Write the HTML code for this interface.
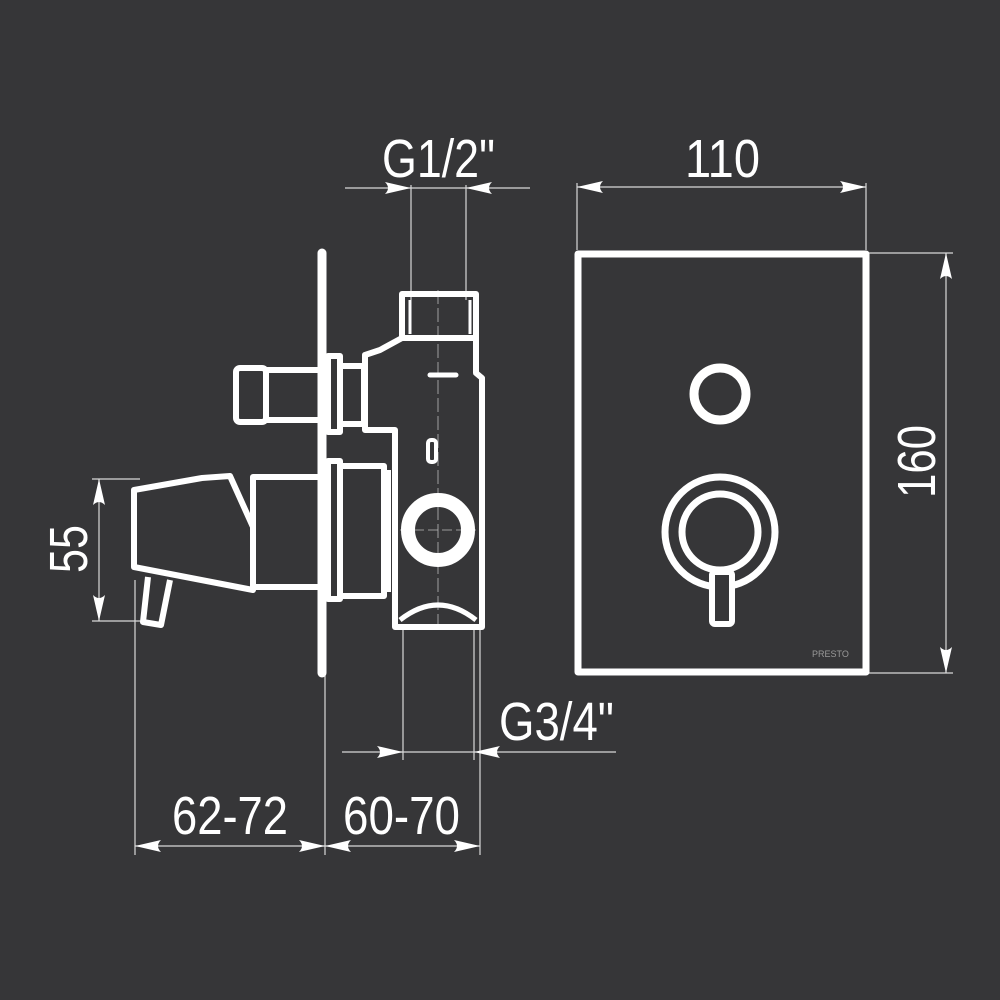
<!DOCTYPE html>
<html><head><meta charset="utf-8"><style>
html,body{margin:0;padding:0;background:#363638;}
svg{display:block}
text{font-family:"Liberation Sans",sans-serif;fill:#fff;font-size:54px}
</style></head><body>
<svg width="1000" height="1000" viewBox="0 0 1000 1000">
<defs>
<path id="ar" d="M0,0 L-26,-6 Q-20,0 -26,6 Z" fill="#fff"/>
</defs>
<rect width="1000" height="1000" fill="#363638"/>
<!-- thin dimension lines -->
<g stroke="#d8d8d8" stroke-width="1.2" fill="none">
<!-- G1/2 -->
<line x1="345" y1="188" x2="530" y2="188"/>
<line x1="411" y1="185" x2="411" y2="300"/>
<line x1="466" y1="185" x2="466" y2="300"/>
<!-- 110 -->
<line x1="577" y1="187" x2="866" y2="187"/>
<line x1="577" y1="183" x2="577" y2="250"/>
<line x1="866" y1="183" x2="866" y2="250"/>
<!-- 160 -->
<line x1="946" y1="253" x2="946" y2="673"/>
<line x1="868" y1="253" x2="953" y2="253"/>
<line x1="868" y1="673" x2="953" y2="673"/>
<!-- 55 -->
<line x1="99" y1="479" x2="99" y2="621"/>
<line x1="92" y1="479" x2="140" y2="479"/>
<line x1="92" y1="621" x2="150" y2="621"/>
<!-- G3/4 -->
<line x1="342" y1="752" x2="616" y2="752"/>
<line x1="403" y1="625" x2="403" y2="760"/>
<line x1="474" y1="625" x2="474" y2="760"/>
<!-- bottom -->
<line x1="135" y1="846" x2="480" y2="846"/>
<line x1="135" y1="580" x2="135" y2="855"/>
<line x1="325" y1="670" x2="325" y2="855"/>
<line x1="480" y1="625" x2="480" y2="855"/>
<!-- center lines in body -->
<line x1="438" y1="290" x2="438" y2="625" stroke-dasharray="14,4" stroke="#bbb" stroke-width="0.8"/>
<line x1="400" y1="530" x2="476" y2="530" stroke-dasharray="10,4" stroke="#bbb" stroke-width="0.8"/>
</g>
<!-- arrows -->
<use href="#ar" transform="translate(411,188)"/>
<use href="#ar" transform="translate(466,188) rotate(180)"/>
<use href="#ar" transform="translate(577,187) rotate(180)"/>
<use href="#ar" transform="translate(866,187)"/>
<use href="#ar" transform="translate(946,253) rotate(-90)"/>
<use href="#ar" transform="translate(946,673) rotate(90)"/>
<use href="#ar" transform="translate(99,479) rotate(-90)"/>
<use href="#ar" transform="translate(99,621) rotate(90)"/>
<use href="#ar" transform="translate(403,752)"/>
<use href="#ar" transform="translate(474,752) rotate(180)"/>
<use href="#ar" transform="translate(135,846) rotate(180)"/>
<use href="#ar" transform="translate(325,846)"/>
<use href="#ar" transform="translate(325,846) rotate(180)"/>
<use href="#ar" transform="translate(480,846)"/>
<!-- texts -->
<text x="382" y="177" textLength="113" lengthAdjust="spacingAndGlyphs">G1/2"</text>
<text x="685" y="177" textLength="75" lengthAdjust="spacingAndGlyphs">110</text>
<text x="499" y="740" textLength="115" lengthAdjust="spacingAndGlyphs">G3/4"</text>
<text x="172" y="834" textLength="116" lengthAdjust="spacingAndGlyphs">62-72</text>
<text x="343" y="834" textLength="117" lengthAdjust="spacingAndGlyphs">60-70</text>
<text transform="translate(935,498) rotate(-90)" textLength="73" lengthAdjust="spacingAndGlyphs">160</text>
<text transform="translate(87,573) rotate(-90)" textLength="48" lengthAdjust="spacingAndGlyphs">55</text>
<!-- right plate -->
<g stroke="#fff" fill="none" stroke-linejoin="round">
<rect x="578" y="254" width="288" height="418" stroke-width="7"/>
<circle cx="720" cy="394" r="26" stroke-width="9"/>
<circle cx="720" cy="532" r="55" stroke-width="7"/>
<circle cx="720" cy="532" r="38" stroke-width="7"/>
<rect x="712" y="572" width="20" height="52" rx="3" fill="#363638" stroke-width="6"/>
</g>
<text x="812" y="657" style="font-size:9px;fill:#999">PRESTO</text>
<!-- left drawing -->
<g stroke="#fff" fill="none" stroke-width="6" stroke-linejoin="round">
<line x1="322" y1="253" x2="322" y2="673" stroke-width="9" stroke-linecap="round"/>
<!-- top port -->
<rect x="402" y="294" width="74" height="44"/>
<line x1="410" y1="300" x2="410" y2="334" stroke-width="3"/>
<line x1="470" y1="300" x2="470" y2="334" stroke-width="3"/>
<!-- body -->
<path d="M402,338 L380,350 L365,355 L365,430 L395,430 L395,627 L482,627 L482,378 L476,373 L476,338"/>
<!-- top pipe -->
<rect x="236" y="368" width="30" height="54" rx="4"/>
<rect x="266" y="370" width="60" height="50"/>
<rect x="328" y="356" width="12" height="76"/>
<rect x="340" y="366" width="24" height="58"/>
<!-- lower -->
<rect x="328" y="461" width="12" height="138"/>
<rect x="340" y="466" width="44" height="130"/>
<line x1="388" y1="470" x2="388" y2="592"/>
<rect x="253" y="477" width="73" height="110"/>
<path d="M134,490 L202,478 L230,476 L253,527 L253,590 L134,567 Z"/>
<path d="M148,577 L143,622 L161,625 L170,580"/>
<circle cx="438" cy="530" r="30" stroke-width="14"/>
<path d="M400,620 Q438,590 476,620" stroke-width="5"/>
<rect x="428" y="440" width="8" height="22" rx="3" stroke-width="4"/>
<line x1="430" y1="375" x2="456" y2="375" stroke-width="5" stroke-linecap="round"/>
</g>
</svg>
</body></html>
